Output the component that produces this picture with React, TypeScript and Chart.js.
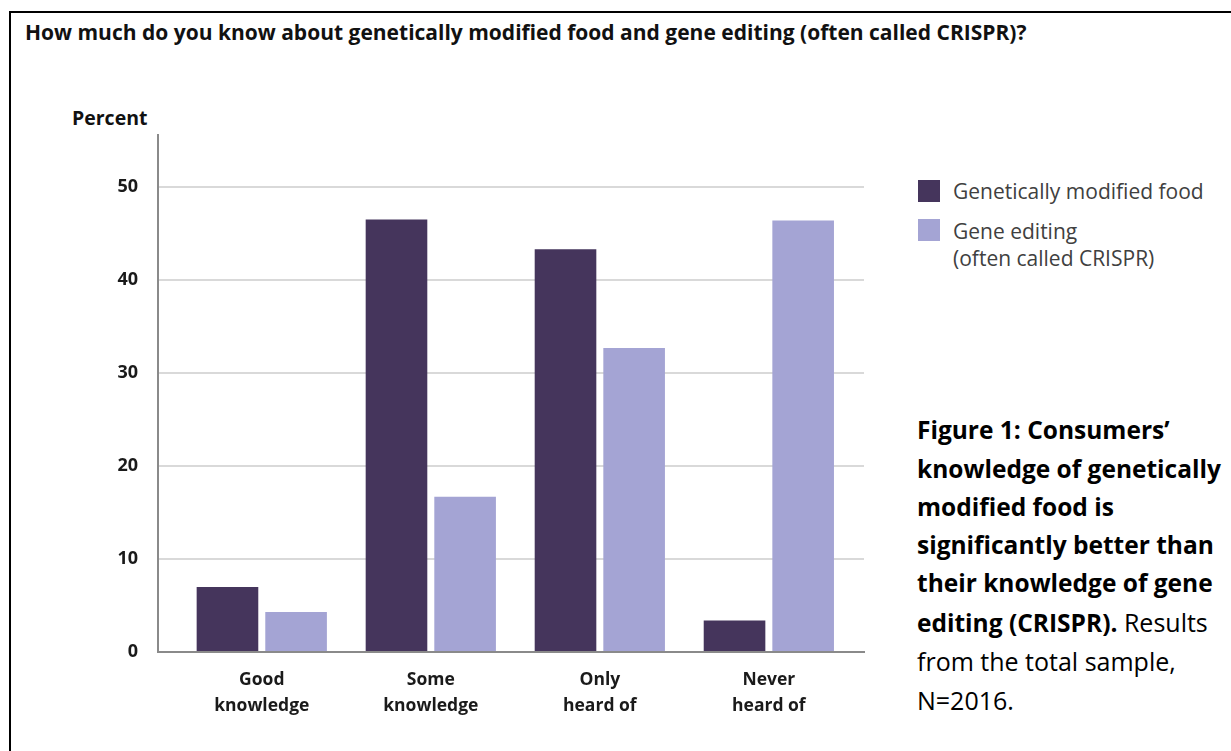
import React, { useEffect, useRef } from "react";
import { Chart, registerables } from "chart.js";

Chart.register(...registerables);

const categories: string[][] = [
  ["Good", "knowledge"],
  ["Some", "knowledge"],
  ["Only", "heard of"],
  ["Never", "heard of"],
];
const gmFoodValues = [7.0, 46.5, 43.3, 3.4];
const geneEditingValues = [4.3, 16.7, 32.7, 46.4];
const yTickValues = [0, 10, 20, 30, 40, 50];
const seriesNames = ["Genetically modified food", "Gene editing", "(often called CRISPR)"];

const GM_COLOR = "#45355c";
const GE_COLOR = "#a4a4d4";
const FONT = "'Open Sans', 'Noto Sans', sans-serif";

function BarChart() {
  const ref = useRef<HTMLCanvasElement | null>(null);
  useEffect(() => {
    if (!ref.current) return;
    const chart = new Chart(ref.current, {
      type: "bar",
      data: {
        datasets: [
          {
            label: seriesNames[0],
            data: gmFoodValues.map((v, i) => ({ x: i, y: v })),
            backgroundColor: GM_COLOR,
            categoryPercentage: 0.812,
            barPercentage: 0.898,
          },
          {
            label: seriesNames[1] + " " + seriesNames[2],
            data: geneEditingValues.map((v, i) => ({ x: i, y: v })),
            backgroundColor: GE_COLOR,
            categoryPercentage: 0.812,
            barPercentage: 0.898,
          },
        ],
      },
      options: {
        responsive: false,
        animation: false,
        layout: { padding: { top: 135, right: 36, left: 0, bottom: 0 } },
        plugins: { legend: { display: false }, tooltip: { enabled: false }, title: { display: false } },
        scales: {
          x: {
            type: "linear",
            offset: false,
            min: -0.614,
            max: 3.563,
            grid: { display: false, offset: false },
            border: { display: true, color: "#8a8a8a", width: 2 },
            afterBuildTicks: (scale: any) => {
              scale.ticks = categories.map((_, i) => ({ value: i }));
            },
            afterFit: (scale: any) => {
              scale.height = 99;
            },
            ticks: {
              autoSkip: false,
              maxRotation: 0,
              minRotation: 0,
              padding: 7,
              color: "#1a1a1a",
              font: { family: FONT, size: 17.5, weight: "bold", lineHeight: 1.47 },
              callback: (value: any) => categories[Math.round(Number(value))] ?? "",
            },
          },
          y: {
            min: 0,
            max: 55.6,
            grid: {
              drawTicks: false,
              lineWidth: 2,
              color: (ctx: any) => (ctx.tick && ctx.tick.value === 0 ? "rgba(0,0,0,0)" : "#d9d9d9"),
            },
            border: { display: true, color: "#8a8a8a", width: 2 },
            afterBuildTicks: (scale: any) => {
              scale.ticks = yTickValues.map((v) => ({ value: v }));
            },
            afterFit: (scale: any) => {
              scale.width = 158;
            },
            ticks: {
              padding: 20,
              color: "#1a1a1a",
              font: { family: FONT, size: 18, weight: "bold" },
            },
          },
        },
      } as any,
    });
    return () => chart.destroy();
  }, []);
  return (
    <canvas
      ref={ref}
      width={900}
      height={751}
      style={{ position: "absolute", left: 0, top: 0, width: 900, height: 751 }}
    />
  );
}

export default function App() {
  const abs = (left: number, top: number): React.CSSProperties => ({
    position: "absolute",
    left,
    top,
    whiteSpace: "nowrap",
    fontFamily: FONT,
  });
  const reg: React.CSSProperties = { fontSize: 25, fontWeight: 400 };
  return (
    <div style={{ position: "fixed", inset: 0, overflow: "hidden", background: "#fff" }}>
      <div
        style={{
          position: "absolute",
          left: 9,
          top: 11,
          width: 1400,
          height: 900,
          borderLeft: "2px solid #000",
          borderTop: "2px solid #000",
        }}
      />
      <div style={{ ...abs(25, 20), fontSize: 21, lineHeight: "24px", fontWeight: 700, color: "#111" }}>
        How much do you know about genetically modified food and gene editing (often called CRISPR)?
      </div>
      <div style={{ ...abs(72, 106), fontSize: 19.5, lineHeight: "24px", fontWeight: 700, color: "#111" }}>
        Percent
      </div>
      <BarChart />
      <div style={{ position: "absolute", left: 918, top: 180, width: 22, height: 22, background: GM_COLOR }} />
      <div style={{ position: "absolute", left: 918, top: 219, width: 22, height: 22, background: GE_COLOR }} />
      <div style={{ ...abs(953, 177.5), fontSize: 21, lineHeight: "27px", color: "#404040" }}>
        {seriesNames[0]}
      </div>
      <div style={{ ...abs(953, 218), fontSize: 21, lineHeight: "27px", color: "#404040" }}>
        {seriesNames[1]}
        <br />
        {seriesNames[2]}
      </div>
      <div style={{ ...abs(917, 411.3), fontSize: 24.5, lineHeight: "38.3px", fontWeight: 700, color: "#000" }}>
        Figure 1: Consumers’
        <br />
        knowledge of genetically
        <br />
        modified food is
        <br />
        significantly better than
        <br />
        their knowledge of gene
        <br />
        editing (CRISPR).<span style={reg}> Results</span>
        <br />
        <span style={reg}>from the total sample,</span>
        <br />
        <span style={reg}>N=2016.</span>
      </div>
    </div>
  );
}
